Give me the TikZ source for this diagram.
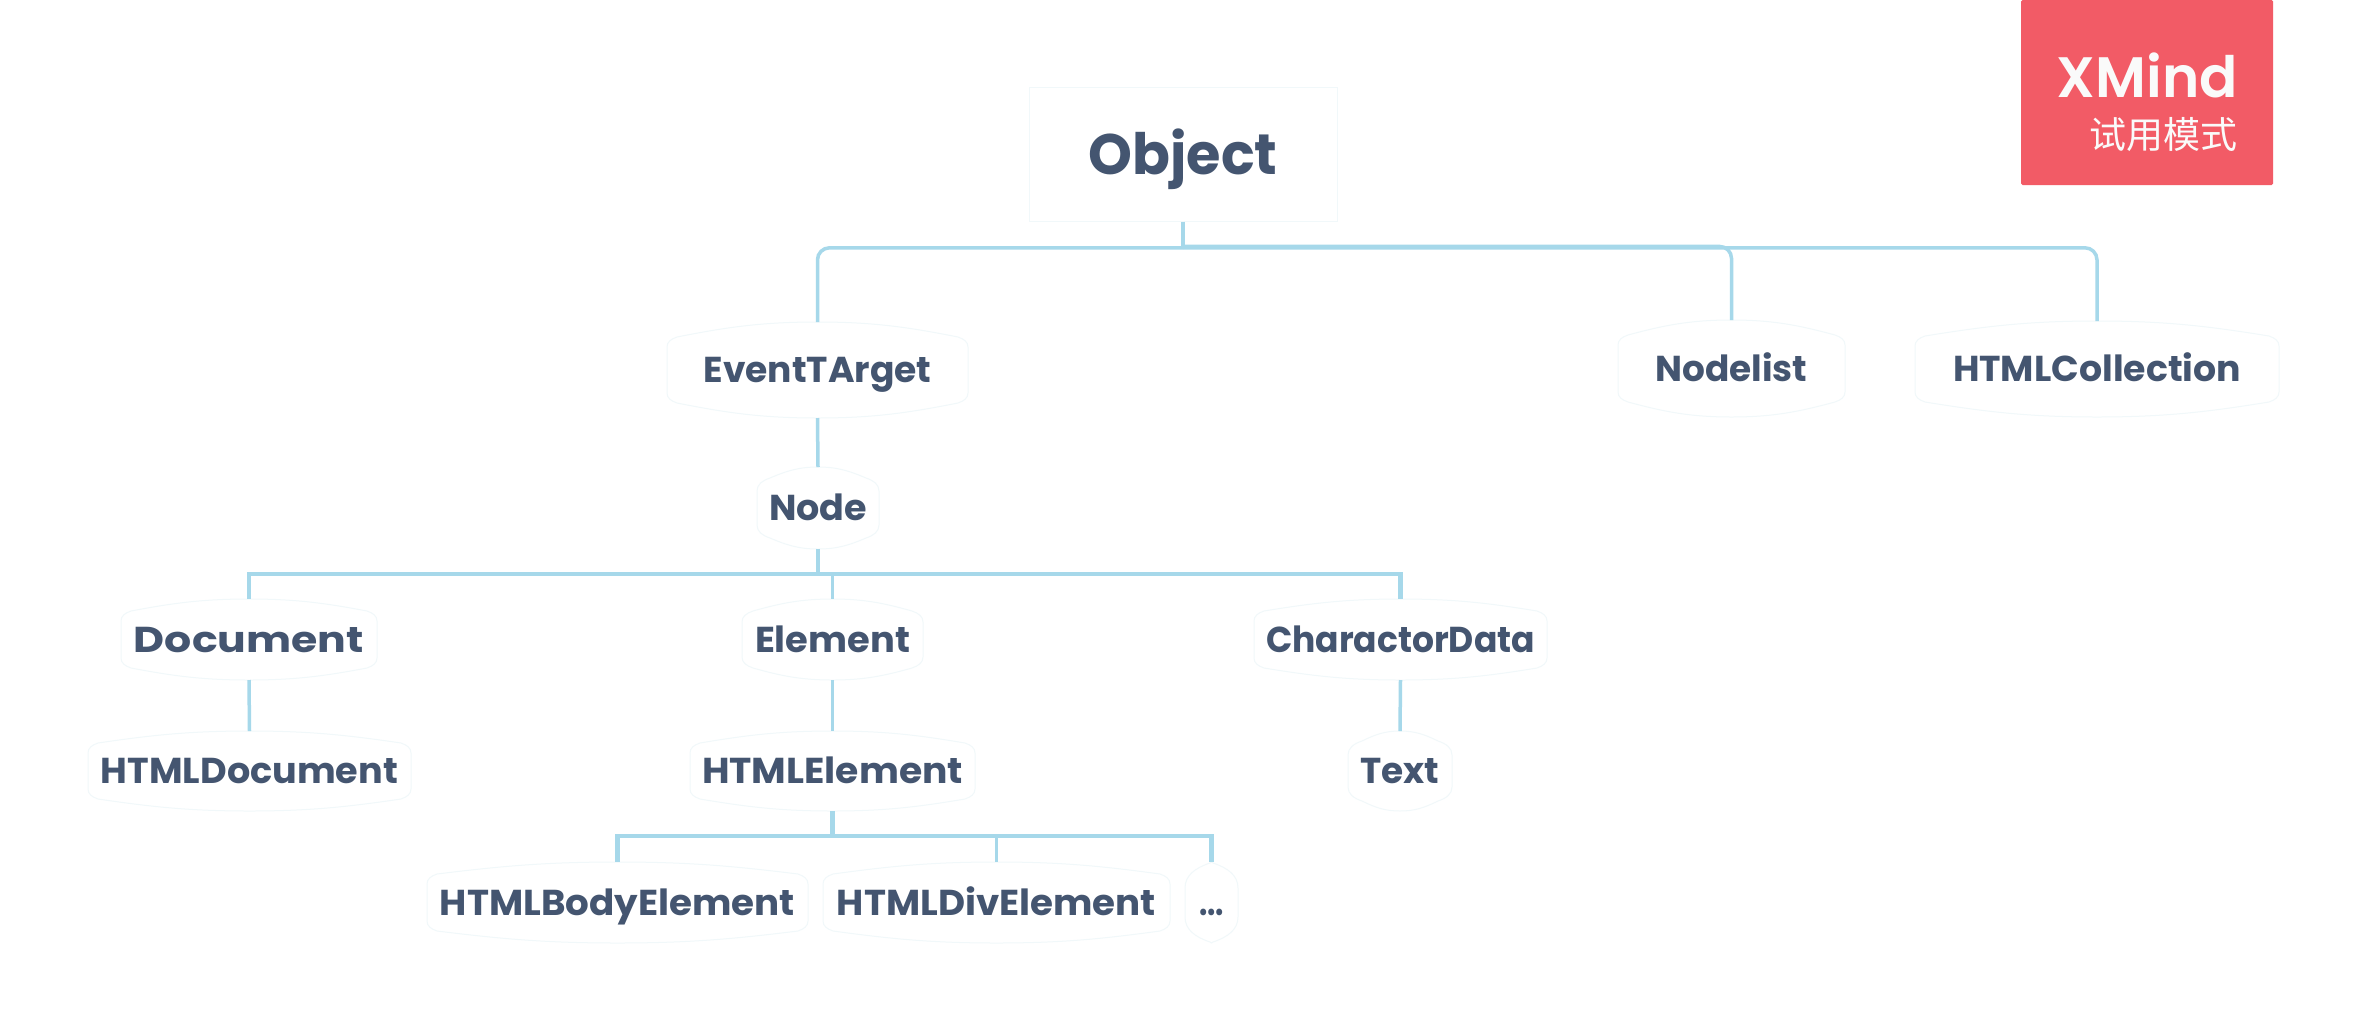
\documentclass[tikz,border=0pt]{standalone}
\usepackage{fontspec}
\usepackage{graphicx}
\setmainfont{Poppins}
\newfontfamily\brandfont{Poppins SemiBold}
\newfontfamily\cjkfont{Noto Sans CJK SC}
\definecolor{inkblue}{HTML}{445570}
\definecolor{linkblue}{HTML}{A6D8EA}
\definecolor{paleedge}{HTML}{F1F8FA}
\definecolor{badgered}{HTML}{F25B66}
\definecolor{badgetext}{HTML}{FAFAFA}
\tikzset{
  topicbox/.style={inner sep=0pt,outer sep=0pt,align=center,text=inkblue,
    font=\fontsize{36}{40}\selectfont\bfseries,text height=25pt,text depth=0pt},
  edgeline/.style={draw=paleedge,line width=1pt},
  link/.style={draw=linkblue,line width=3.5pt},
  linkthick/.style={draw=linkblue,line width=4.6pt},
  linkround/.style={link,rounded corners=12pt},
}
\usetikzlibrary{calc}
% name, x0, x1, y0, y1, corner drop, corner radius, text width, text
\newcommand{\lnode}[9]{%
  \pgfmathsetmacro{\cxx}{(#2+#3)/2}%
  \pgfmathsetmacro{\cyy}{(#4+#5)/2}%
  \pgfmathsetmacro{\wdd}{#3-#2}%
  \pgfmathsetmacro{\htt}{#5-#4}%
  \pgfmathsetmacro{\spn}{\wdd/2-#7}%
  \node[topicbox,minimum width=\wdd pt,minimum height=\htt pt] (#1) at (\cxx,\cyy) {\resizebox{#8pt}{\height}{#9}};
  \draw[edgeline] (#1.north)
    .. controls ($(#1.north)+(-.4*\spn,0)$) and ($(#1.north west)+(#7+.35*\spn,.35*#6)$) .. ($(#1.north west)+(#7,#6)$)
    .. controls ($(#1.north west)+(.4*#7,#6+.2*#7)$) and ($(#1.north west)+(0,#6+.5*#7)$) .. ($(#1.north west)+(0,#6+#7)$)
    -- ($(#1.south west)+(0,-#6-#7)$)
    .. controls ($(#1.south west)+(0,-#6-.5*#7)$) and ($(#1.south west)+(.4*#7,-#6-.2*#7)$) .. ($(#1.south west)+(#7,-#6)$)
    .. controls ($(#1.south west)+(#7+.35*\spn,-.35*#6)$) and ($(#1.south)+(-.4*\spn,0)$) .. (#1.south)
    .. controls ($(#1.south)+(.4*\spn,0)$) and ($(#1.south east)+(-#7-.35*\spn,-.35*#6)$) .. ($(#1.south east)+(-#7,-#6)$)
    .. controls ($(#1.south east)+(-.4*#7,-#6-.2*#7)$) and ($(#1.south east)+(0,-#6-.5*#7)$) .. ($(#1.south east)+(0,-#6-#7)$)
    -- ($(#1.north east)+(0,#6+#7)$)
    .. controls ($(#1.north east)+(0,#6+.5*#7)$) and ($(#1.north east)+(-.4*#7,#6+.2*#7)$) .. ($(#1.north east)+(-#7,#6)$)
    .. controls ($(#1.north east)+(-#7-.35*\spn,.35*#6)$) and ($(#1.north)+(.4*\spn,0)$) .. (#1.north) -- cycle;
}
\begin{document}
\begin{tikzpicture}[x=1pt,y=-1pt]
\useasboundingbox (0,0) rectangle (2367,1029);
\fill[white] (0,0) rectangle (2367,1029);

% root
\node[draw=paleedge,line width=1pt,inner sep=0pt,minimum width=308pt,minimum height=134pt,
      text=inkblue,font=\fontsize{57}{60}\selectfont\bfseries,text height=40pt,text depth=0pt]
      (obj) at (1183,154) {\resizebox{189pt}{\height}{Object}};

% topics
\lnode{et}{667}{968}{322}{418}{15}{10}{228}{EventTArget}
\lnode{nl}{1618}{1845}{320}{417}{15}{10}{152}{Nodelist}
\lnode{hc}{1915}{2279}{321}{417}{15}{10}{288}{HTMLCollection}
\lnode{nd}{757}{879}{467}{549}{11}{13}{98}{Node}
\lnode{doc}{121}{377}{599}{680}{12}{10}{230}{Document}
\lnode{el}{742}{923}{599}{680}{12}{11}{155}{Element}
\lnode{cd}{1254}{1547}{599}{680}{12}{10}{269}{CharactorData}
\lnode{hd}{88}{411}{731}{811}{12}{10}{297}{HTMLDocument}
\lnode{he}{690}{975}{731}{811}{12}{10}{261}{HTMLElement}
\lnode{tx}{1348}{1452}{731}{811}{10}{14}{79}{Text}
\lnode{hb}{427}{808}{862}{943}{12}{10}{355}{HTMLBodyElement}
\lnode{hv}{823}{1170}{862}{943}{12}{10}{319}{HTMLDivElement}
\lnode{more}{1185}{1238}{862}{943}{1}{25}{25}{...}

% buses
\coordinate (busa) at (obj.south |- 0,247.8);
\coordinate (busb) at (obj.south |- 0,246.4);
\coordinate (busc) at (nd.south |- 0,574);
\coordinate (busd) at (he.south |- 0,836);

% connectors
\draw[linkthick] (obj.south) -- (busa);
\draw[linkround] (busa) -| (et.north);
\draw[linkround] (busb) -| (nl.north);
\draw[linkround] (busa) -| (hc.north);

\draw[link] (et.south) -- (nd.north);

\draw[linkthick] (nd.south) -- (busc);
\draw[linkthick] (busc) -| (doc.north);
\draw[linkthick] (busc) -| (cd.north);
\draw[link] (el.north |- busc) -- (el.north);

\draw[link] (doc.south) -- (hd.north);
\draw[link] (el.south) -- (he.north);
\draw[link] (cd.south) -- (tx.north);

\draw[linkthick] (he.south) -- (busd);
\draw[linkthick] (busd) -| (hb.north);
\draw[linkthick] (busd) -| (more.north);
\draw[link] (hv.north |- busd) -- (hv.north);

% trial badge
\node[fill=badgered,rounded corners=1.5pt,inner sep=0pt,minimum width=252pt,minimum height=185pt] (badge) at (2147,92.5) {};
\node[inner sep=0pt,anchor=base east,text=badgetext,font=\fontsize{57}{60}\brandfont] (brand)
  at (2238,97) {\resizebox{181pt}{\height}{XMind}};
\node[inner sep=0pt,anchor=base east,text=badgetext,font=\fontsize{37}{40}\cjkfont] (trial)
  at (2238,148) {试用模式};
\end{tikzpicture}
\end{document}
